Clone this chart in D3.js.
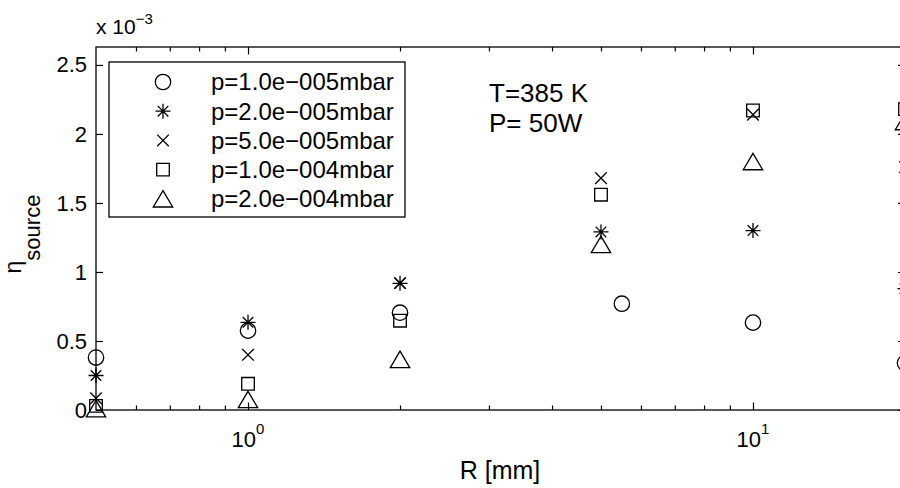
<!DOCTYPE html>
<html>
<head>
<meta charset="utf-8">
<script src="https://cdn.jsdelivr.net/npm/d3@7"></script>
<style>
  body { margin: 0; background: #fff; }
  text { font-family: "Liberation Sans", Arial, Helvetica, sans-serif; fill: #000; }
</style>
</head>
<body>
<div id="chart"></div>
<script>
// R values in mm (the circle series sits a bit further right in the middle group)
var radius = [0.5, 1, 2, 5, 10, 20];
var radiusCircle = [0.5, 1, 2, 5.5, 10, 20];

// eta_source, in units of 1e-3
var eta1e5 = [0.38, 0.575, 0.705, 0.77, 0.633, 0.34];
var eta2e5 = [0.25, 0.635, 0.918, 1.29, 1.30, 0.88];
var eta5e5 = [0.085, 0.40, 0.92, 1.68, 2.14, 1.76];
var eta1e4 = [0.03, 0.19, 0.647, 1.56, 2.17, 2.18];
var eta2e4 = [0.01, 0.076, 0.367, 1.20, 1.80, 2.09];

var legendLabels = ["p=1.0e\u2212005mbar", "p=2.0e\u2212005mbar", "p=5.0e\u2212005mbar",
                    "p=1.0e\u2212004mbar", "p=2.0e\u2212004mbar"];
var markerShapes = ["circle", "star", "x", "square", "triangle"];

var xMajor = [1, 10];
var xMinor = [0.6, 0.7, 0.8, 0.9, 2, 3, 4, 5, 6, 7, 8, 9];
var yTicks = [0, 0.5, 1, 1.5, 2, 2.5];

var series = [
  { r: radiusCircle, v: eta1e5 },
  { r: radius, v: eta2e5 },
  { r: radius, v: eta5e5 },
  { r: radius, v: eta1e4 },
  { r: radius, v: eta2e4 }
];

var svgWidth = 900;
var svgHeight = 488;

var svg = d3.select("#chart")
  .append("svg")
  .attr("width", svgWidth)
  .attr("height", svgHeight)
  .style("display", "block");

// axis box runs past the right edge of the window, as in the picture
var x = d3.scaleLog().domain([0.5, 20]).range([96, 905]);
var y = d3.scaleLinear().domain([0, 2.63]).range([410, 47]);

// marker outlines, matlab style
function markerPath(shape) {
  switch (shape) {
    case "circle": return "M-7.7,0A7.7,7.7 0 1,0 7.7,0A7.7,7.7 0 1,0 -7.7,0Z";
    case "star": return "M-7.5,0H7.5M0,-7.5V7.5M-5.3,-5.3L5.3,5.3M-5.3,5.3L5.3,-5.3";
    case "x": return "M-5.8,-5.8L5.8,5.8M-5.8,5.8L5.8,-5.8";
    case "square": return "M-6.3,-6.3H6.3V6.3H-6.3Z";
    case "triangle": return "M0,-8.2L9.7,8.2H-9.7Z";
  }
}

// frame
svg.append("rect")
  .attr("x", x(0.5))
  .attr("y", y(2.63))
  .attr("width", x(20) - x(0.5))
  .attr("height", y(0) - y(2.63))
  .attr("fill", "none")
  .attr("stroke", "#000")
  .attr("stroke-width", 1.3);

function tickAxis(axis, tx, ty) {
  var g = svg.append("g")
    .attr("transform", `translate(${tx}, ${ty})`)
    .call(axis);
  g.select(".domain").remove();
  g.selectAll("line").attr("stroke", "#000").attr("stroke-width", 1.2);
  return g;
}

// x ticks, bottom and top, pointing inward
tickAxis(d3.axisBottom(x).tickValues(xMajor).tickSize(-7.5).tickFormat(""), 0, y(0));
tickAxis(d3.axisBottom(x).tickValues(xMinor).tickSize(-4.5).tickFormat(""), 0, y(0));
tickAxis(d3.axisTop(x).tickValues(xMajor).tickSize(-7.5).tickFormat(""), 0, y(2.63));
tickAxis(d3.axisTop(x).tickValues(xMinor).tickSize(-4.5).tickFormat(""), 0, y(2.63));

// y ticks, left with labels, right without
var leftAxis = tickAxis(d3.axisLeft(y).tickValues(yTicks).tickSize(-7).tickPadding(9)
  .tickFormat(d => String(d)), x(0.5), 0);
leftAxis.selectAll("text")
  .attr("fill", "#000")
  .style("font-size", "22px")
  .style("font-family", "'Liberation Sans', Arial, sans-serif");
tickAxis(d3.axisRight(y).tickValues(yTicks).tickSize(-7).tickFormat(""), x(20), 0);

// x tick labels as powers of ten
xMajor.forEach(function (d) {
  var t = svg.append("text")
    .attr("x", x(d))
    .attr("y", 447)
    .attr("text-anchor", "middle")
    .style("font-size", "22px");
  t.append("tspan").text("10");
  t.append("tspan")
    .attr("dy", -13)
    .style("font-size", "15px")
    .text(Math.round(Math.log10(d)));
});

// exponent label above the y axis
var mult = svg.append("text")
  .attr("x", 96)
  .attr("y", 34)
  .style("font-size", "21px");
mult.append("tspan").text("x 10");
mult.append("tspan")
  .attr("dy", -10)
  .style("font-size", "15px")
  .text("\u22123");

// axis labels
svg.append("text")
  .attr("x", 500)
  .attr("y", 479)
  .attr("text-anchor", "middle")
  .style("font-size", "25px")
  .text("R [mm]");

var yLabel = svg.append("text")
  .attr("transform", "translate(21, 234) rotate(-90)")
  .attr("text-anchor", "middle")
  .style("font-size", "23px");
yLabel.append("tspan").text("\u03b7");
yLabel.append("tspan")
  .attr("dy", 19)
  .style("font-size", "22px")
  .text("source");

// data markers
series.forEach(function (s, i) {
  svg.append("g")
    .selectAll("path")
    .data(s.v)
    .enter()
    .append("path")
    .attr("transform", (d, j) => `translate(${x(s.r[j])}, ${y(d)})`)
    .attr("d", markerPath(markerShapes[i]))
    .attr("fill", "none")
    .attr("stroke", "#000")
    .attr("stroke-width", 1.3);
});

// legend box
var legend = svg.append("g");
legend.append("rect")
  .attr("x", 109)
  .attr("y", 62)
  .attr("width", 296)
  .attr("height", 155)
  .attr("fill", "#fff")
  .attr("stroke", "#000")
  .attr("stroke-width", 1.3);

legendLabels.forEach(function (label, i) {
  var cy = 82 + i * 29.2;
  legend.append("path")
    .attr("transform", `translate(163, ${cy})`)
    .attr("d", markerPath(markerShapes[i]))
    .attr("fill", "none")
    .attr("stroke", "#000")
    .attr("stroke-width", 1.3);
  legend.append("text")
    .attr("x", 211)
    .attr("y", cy)
    .attr("dy", "0.35em")
    .style("font-size", "24px")
    .text(label);
});

// conditions note
svg.append("text").attr("x", 489).attr("y", 102).style("font-size", "26px").text("T=385 K");
svg.append("text").attr("x", 489).attr("y", 132).style("font-size", "26px").text("P= 50W");
</script>
</body>
</html>
